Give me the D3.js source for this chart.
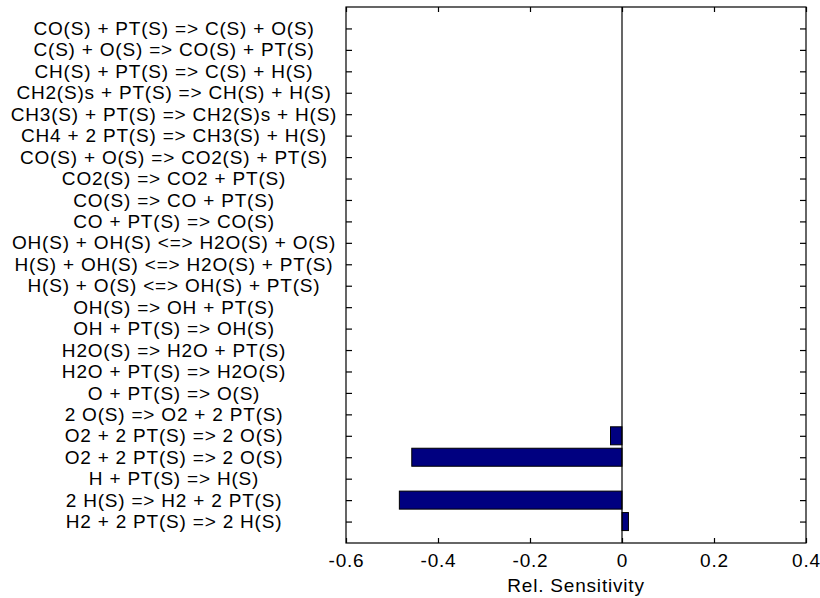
<!DOCTYPE html>
<html>
<head>
<meta charset="utf-8">
<script src="https://cdn.jsdelivr.net/npm/d3@7"></script>
<style>
  body { margin: 0; background: #fff; }
  svg text { font-family: "Liberation Sans", Arial, sans-serif; font-size: 19px; letter-spacing: 0.8px; fill: #000; }
</style>
</head>
<body>
<div id="chart"></div>
<script>
// reactions, top to bottom
const reactions = [
  "CO(S) + PT(S) => C(S) + O(S)",
  "C(S) + O(S) => CO(S) + PT(S)",
  "CH(S) + PT(S) => C(S) + H(S)",
  "CH2(S)s + PT(S) => CH(S) + H(S)",
  "CH3(S) + PT(S) => CH2(S)s + H(S)",
  "CH4 + 2 PT(S) => CH3(S) + H(S)",
  "CO(S) + O(S) => CO2(S) + PT(S)",
  "CO2(S) => CO2 + PT(S)",
  "CO(S) => CO + PT(S)",
  "CO + PT(S) => CO(S)",
  "OH(S) + OH(S) <=> H2O(S) + O(S)",
  "H(S) + OH(S) <=> H2O(S) + PT(S)",
  "H(S) + O(S) <=> OH(S) + PT(S)",
  "OH(S) => OH + PT(S)",
  "OH + PT(S) => OH(S)",
  "H2O(S) => H2O + PT(S)",
  "H2O + PT(S) => H2O(S)",
  "O + PT(S) => O(S)",
  "2 O(S) => O2 + 2 PT(S)",
  "O2 + 2 PT(S) => 2 O(S)",
  "O2 + 2 PT(S) => 2 O(S)",
  "H + PT(S) => H(S)",
  "2 H(S) => H2 + 2 PT(S)",
  "H2 + 2 PT(S) => 2 H(S)"
];

const sensitivity = [
  0, 0, 0, 0, 0, 0, 0, 0, 0, 0, 0, 0,
  0, 0, 0, 0, 0, 0, 0, -0.025, -0.457, 0, -0.484, 0.014
];

const xTicks = [-0.6, -0.4, -0.2, 0, 0.2, 0.4];

const width = 820;
const height = 598;
const plot = { left: 346, right: 806, top: 7, bottom: 543 };

const svg = d3.select("#chart")
              .append("svg")
              .attr("width", width)
              .attr("height", height);

const x = d3.scaleLinear()
            .domain([-0.6, 0.4])
            .range([plot.left, plot.right]);

const y = d3.scalePoint()
            .domain(d3.range(reactions.length))
            .range([plot.top, plot.bottom])
            .padding(1);

const barH = y.step() * 0.84;

const bars = sensitivity.map((v, i) => ({ v, i }))
                        .filter(d => d.v !== 0);

// bars
svg.append("g")
   .selectAll("rect")
   .data(bars)
   .enter()
   .append("rect")
   .attr("x", d => x(Math.min(0, d.v)))
   .attr("width", d => Math.abs(x(d.v) - x(0)))
   .attr("y", d => y(d.i) - barH / 2)
   .attr("height", barH)
   .attr("fill", "#000080")
   .attr("stroke", "#000")
   .attr("stroke-width", 1);

// zero line
svg.append("line")
   .attr("x1", x(0)).attr("x2", x(0))
   .attr("y1", plot.top).attr("y2", plot.bottom)
   .attr("stroke", "#000")
   .attr("stroke-width", 1.2);

// bottom axis
const axBottom = svg.append("g")
                    .attr("transform", `translate(0, ${plot.bottom})`)
                    .call(d3.axisBottom(x)
                            .tickValues(xTicks)
                            .tickFormat(d => d === 0 ? "0" : d3.format(".1f")(d).replace("−", "-"))
                            .tickSize(-5)
                            .tickSizeOuter(0)
                            .tickPadding(11));

// top axis (ticks only)
const axTop = svg.append("g")
                 .attr("transform", `translate(0, ${plot.top})`)
                 .call(d3.axisTop(x)
                         .tickValues(xTicks)
                         .tickFormat("")
                         .tickSize(-5)
                         .tickSizeOuter(0));

// left axis with centred reaction labels
const axLeft = svg.append("g")
                  .attr("transform", `translate(${plot.left}, 0)`)
                  .call(d3.axisLeft(y)
                          .tickFormat(i => reactions[i])
                          .tickSize(-6)
                          .tickSizeOuter(0));

axLeft.selectAll("text")
      .attr("x", 174 - plot.left)
      .attr("text-anchor", "middle");

// right axis (ticks only)
const axRight = svg.append("g")
                   .attr("transform", `translate(${plot.right}, 0)`)
                   .call(d3.axisRight(y)
                           .tickFormat("")
                           .tickSize(-6)
                           .tickSizeOuter(0));

[axBottom, axTop, axLeft, axRight].forEach(g => {
  g.select(".domain").remove();
  g.selectAll("line").attr("stroke", "#000").attr("stroke-width", 1.2);
  g.selectAll("text").attr("font-family", null).attr("font-size", null).attr("fill", "#000");
});

// frame
svg.append("rect")
   .attr("x", plot.left)
   .attr("y", plot.top)
   .attr("width", plot.right - plot.left)
   .attr("height", plot.bottom - plot.top)
   .attr("fill", "none")
   .attr("stroke", "#000")
   .attr("stroke-width", 1.2);

svg.append("text")
   .attr("x", (plot.left + plot.right) / 2)
   .attr("y", 592)
   .attr("text-anchor", "middle")
   .text("Rel. Sensitivity");
</script>
</body>
</html>
